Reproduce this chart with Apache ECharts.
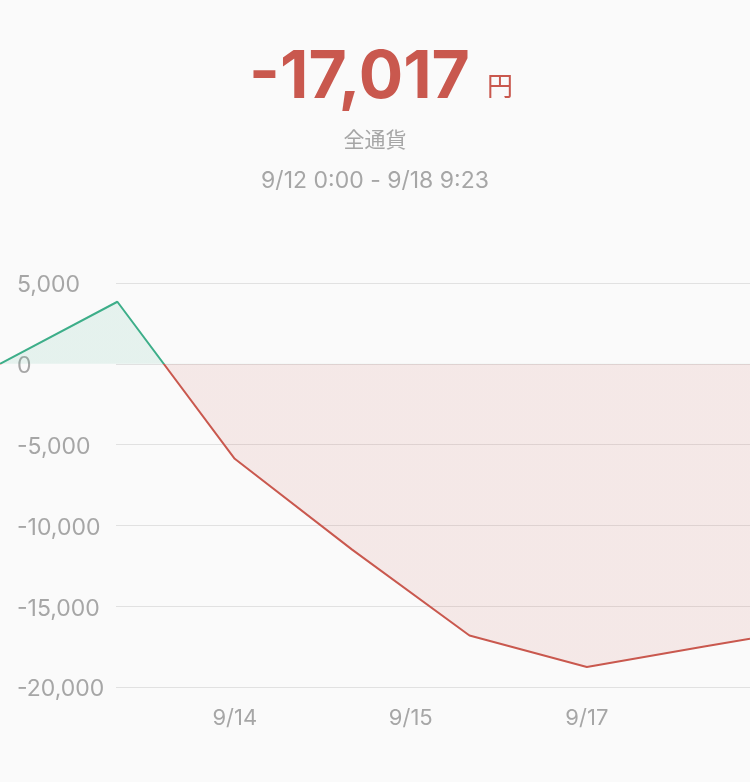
<!DOCTYPE html>
<html><head><meta charset="utf-8">
<script src="https://cdn.jsdelivr.net/npm/echarts@6/dist/echarts.min.js"></script>
<style>html,body{margin:0;padding:0;background:#fafafa}#c{width:750px;height:782px}</style>
</head><body><div id="c"></div>
<script>
// Data (x = days since 9/12 0:00)
const dayOffsets = [0, 1, 2, 3, 4, 5, 6, 6.39];
const profits = [0, 3840, -5880, -11500, -16810, -18760, -17500, -17017];
const xLabelPos = [2, 3.5, 5];
const xLabels = ['9/14', '9/15', '9/17'];
const yMin = -20000, yMax = 5000, yStep = 5000;
const totalText = '-17,017';
const unitText = '円';
const subtitleText = '全通貨';
const periodText = '9/12 0:00 - 9/18 9:23';

const RED = '#c9584e', GREEN = '#3dae89', GRAY = '#a6a6a6';
const NUM_FONT = 'Inter, "Noto Sans CJK JP", sans-serif';
const JP_FONT = '"Noto Sans CJK JP", sans-serif';

const chart = echarts.init(document.getElementById('c'), null, {renderer: 'canvas'});
const GRID_TOP = 283, GRID_BOTTOM = 95;

chart.setOption({
  backgroundColor: '#fafafa',
  animation: false,
  graphic: [
    {type: 'text', right: 280, top: 45, style: {text: totalText, fill: RED, font: 'bold 66px ' + NUM_FONT}},
    {type: 'text', left: 487, top: 73, style: {text: unitText, fill: RED, font: '26px ' + JP_FONT}},
    {type: 'text', left: 'center', top: 129, style: {text: subtitleText, fill: GRAY, font: '21px ' + JP_FONT}},
    {type: 'text', left: 'center', top: 170, style: {text: periodText, fill: GRAY, font: '23px ' + NUM_FONT}}
  ],
  grid: [
    {left: 0, right: 0, top: GRID_TOP, bottom: GRID_BOTTOM},
    {left: 116, right: 0, top: GRID_TOP, bottom: GRID_BOTTOM}
  ],
  xAxis: [
    {
      gridIndex: 0, type: 'value', min: dayOffsets[0], max: dayOffsets[dayOffsets.length - 1],
      axisLine: {show: false}, axisTick: {show: false}, splitLine: {show: false},
      axisLabel: {
        customValues: xLabelPos,
        formatter: v => { const i = xLabelPos.indexOf(v); return i >= 0 ? xLabels[i] : ''; },
        color: GRAY, fontSize: 22, fontFamily: NUM_FONT, margin: 20
      }
    },
    {gridIndex: 1, type: 'value', show: false, min: 0, max: 1}
  ],
  yAxis: [
    {gridIndex: 0, type: 'value', min: yMin, max: yMax, interval: yStep, show: false},
    {
      gridIndex: 1, type: 'value', min: yMin, max: yMax, interval: yStep,
      axisLine: {show: false}, axisTick: {show: false},
      splitLine: {show: true, lineStyle: {color: '#e1e1e1', width: 1}},
      axisLabel: {
        align: 'left', margin: 99, color: GRAY, fontSize: 23, fontFamily: NUM_FONT,
        verticalAlign: 'top', lineHeight: 5,
        formatter: v => v.toLocaleString('en-US')
      }
    }
  ],
  visualMap: {
    show: false, type: 'piecewise', seriesIndex: 0, dimension: 1,
    pieces: [
      {gt: 0, lte: yMax * 10, color: GREEN},
      {gte: yMin * 10, lte: 0, color: RED}
    ],
    outOfRange: {color: RED}
  },
  series: [{
    type: 'line', xAxisIndex: 0, yAxisIndex: 0,
    data: dayOffsets.map((d, i) => [d, profits[i]]),
    showSymbol: false, symbol: 'none',
    lineStyle: {width: 2},
    areaStyle: {opacity: 0.11},
    z: 3
  }]
});
</script></body></html>
